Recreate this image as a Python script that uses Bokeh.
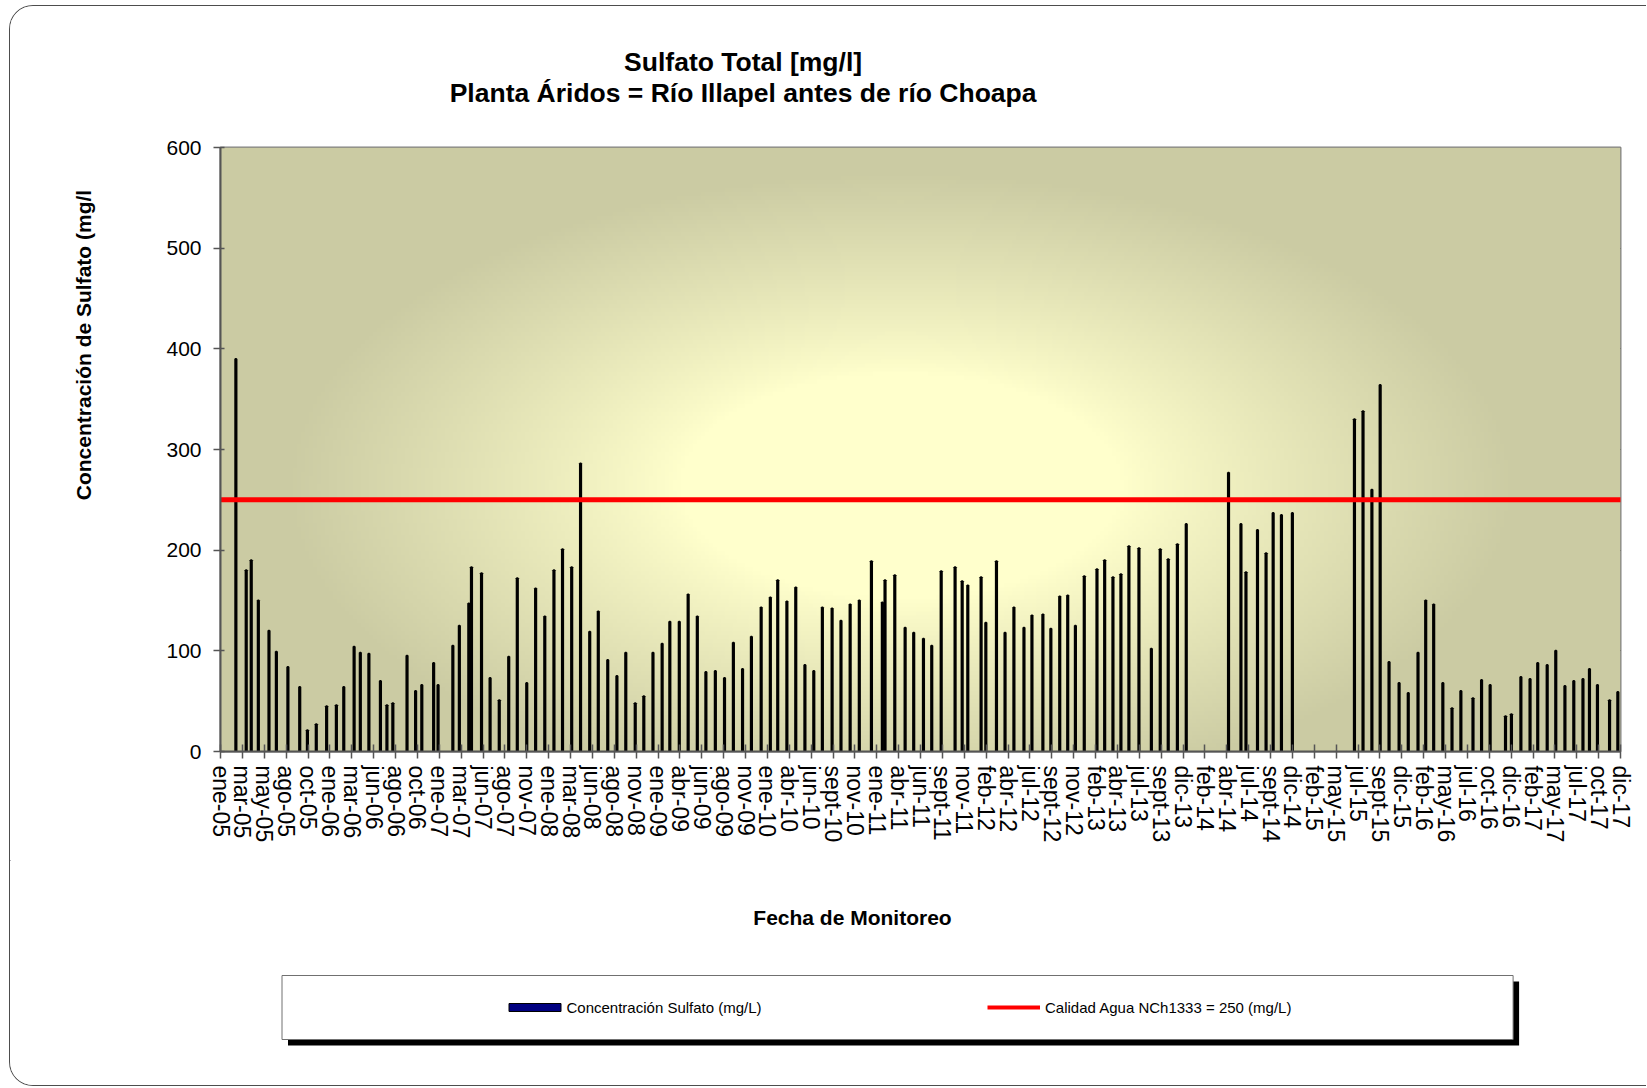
import numpy as np
import pandas as pd
from bokeh.plotting import figure
from bokeh.layouts import column, row
from bokeh.models import Range1d, FixedTicker, Legend, LegendItem, ColumnDataSource
from bokeh.core.properties import value
from bokeh.embed import file_html
from bokeh.resources import INLINE

# ---------------- texts ----------------
title_line1 = "Sulfato Total [mg/l]"
title_line2 = "Planta Áridos = Río Illapel antes de río Choapa"
x_title = "Fecha de Monitoreo"
y_title = "Concentración de Sulfato (mg/l"
series_bar = "Concentración Sulfato (mg/L)"
series_limit = "Calidad Agua NCh1333 = 250 (mg/L)"

# ---------------- data ----------------
sample_dates = [
    "2005-02-22", "2005-03-29", "2005-04-15", "2005-05-09", "2005-06-14", "2005-07-09",
    "2005-08-17", "2005-09-26", "2005-10-22", "2005-11-21", "2005-12-26", "2006-01-28",
    "2006-02-22", "2006-03-29", "2006-04-19", "2006-05-18", "2006-06-26", "2006-07-18",
    "2006-08-07", "2006-09-24", "2006-10-23", "2006-11-13", "2006-12-23", "2007-01-07",
    "2007-02-26", "2007-03-20", "2007-04-21", "2007-04-30", "2007-06-03", "2007-07-02",
    "2007-08-02", "2007-09-03", "2007-10-02", "2007-11-03", "2007-12-03", "2008-01-03",
    "2008-02-03", "2008-03-03", "2008-04-03", "2008-05-03", "2008-06-03", "2008-07-02",
    "2008-08-03", "2008-09-03", "2008-10-03", "2008-11-04", "2008-12-03", "2009-01-03",
    "2009-02-03", "2009-03-01", "2009-04-02", "2009-05-02", "2009-06-02", "2009-07-01",
    "2009-08-02", "2009-09-02", "2009-10-02", "2009-11-02", "2009-12-02", "2010-01-04",
    "2010-02-04", "2010-03-01", "2010-04-01", "2010-05-01", "2010-06-01", "2010-07-01",
    "2010-07-30", "2010-09-01", "2010-10-01", "2010-11-01", "2010-12-02", "2011-01-12",
    "2011-02-18", "2011-02-27", "2011-04-01", "2011-05-06", "2011-06-04", "2011-07-07",
    "2011-08-04", "2011-09-05", "2011-10-22", "2011-11-15", "2011-12-04", "2012-01-18",
    "2012-02-03", "2012-03-10", "2012-04-08", "2012-05-08", "2012-06-11", "2012-07-08",
    "2012-08-14", "2012-09-10", "2012-10-10", "2012-11-06", "2012-12-02", "2013-01-01",
    "2013-02-13", "2013-03-11", "2013-04-08", "2013-05-05", "2013-06-01", "2013-07-05",
    "2013-08-16", "2013-09-15", "2013-10-12", "2013-11-12", "2013-12-12", "2014-05-04",
    "2014-06-15", "2014-07-02", "2014-08-10", "2014-09-08", "2014-10-02", "2014-10-30",
    "2014-12-06", "2015-07-04", "2015-08-02", "2015-09-01", "2015-09-29", "2015-10-29",
    "2015-12-02", "2016-01-02", "2016-02-04", "2016-03-01", "2016-03-28", "2016-04-28",
    "2016-05-29", "2016-06-28", "2016-08-08", "2016-09-06", "2016-10-05", "2016-11-26",
    "2016-12-16", "2017-01-17", "2017-02-17", "2017-03-15", "2017-04-16", "2017-05-15",
    "2017-06-15", "2017-07-15", "2017-08-15", "2017-09-06", "2017-10-03", "2017-11-13",
    "2017-12-11",
]
sulfate = [
    390, 180, 190, 150, 120, 99,
    84, 64, 21, 27, 45, 46,
    64, 104, 98, 97, 70, 46,
    48, 95, 60, 66, 88, 66,
    105, 125, 147, 183, 177, 73,
    51, 94, 172, 68, 162, 134,
    180, 201, 183, 286, 119, 139,
    91, 75, 98, 48, 55, 98,
    107, 129, 129, 156, 134, 79,
    80, 73, 108, 82, 114, 143,
    153, 170, 149, 163, 86, 80,
    143, 142, 130, 146, 150, 189,
    148, 170, 175, 123, 118, 112,
    105, 179, 183, 169, 165, 173,
    128, 189, 118, 143, 123, 135,
    136, 122, 154, 155, 125, 174,
    181, 190, 173, 176, 204, 202,
    102, 201, 191, 206, 226, 277,
    226, 178, 220, 197, 237, 235,
    237, 330, 338, 260, 364, 89,
    68, 58, 98, 150, 146, 68,
    43, 60, 53, 71, 66, 35,
    37, 74, 72, 88, 86, 100,
    65, 70, 72, 82, 66, 51,
    59,
]
limit_value = 250

axis_start = "2005-01-01"
tick_step_days = 74
tick_labels = [
    "ene-05", "mar-05", "may-05", "ago-05", "oct-05", "ene-06", "mar-06", "jun-06",
    "ago-06", "oct-06", "ene-07", "mar-07", "jun-07", "ago-07", "nov-07", "ene-08",
    "mar-08", "jun-08", "ago-08", "nov-08", "ene-09", "abr-09", "jun-09", "ago-09",
    "nov-09", "ene-10", "abr-10", "jun-10", "sept-10", "nov-10", "ene-11", "abr-11",
    "jun-11", "sept-11", "nov-11", "feb-12", "abr-12", "jul-12", "sept-12", "nov-12",
    "feb-13", "abr-13", "jul-13", "sept-13", "dic-13", "feb-14", "abr-14", "jul-14",
    "sept-14", "dic-14", "feb-15", "may-15", "jul-15", "sept-15", "dic-15", "feb-16",
    "may-16", "jul-16", "oct-16", "dic-16", "feb-17", "may-17", "jul-17", "oct-17",
    "dic-17",
]
y_ticks = [0, 100, 200, 300, 400, 500, 600]

# ---------------- derived ----------------
start = pd.Timestamp(axis_start)
x_days = [(pd.Timestamp(d) - start).days for d in sample_dates]
tick_pos = [i * tick_step_days for i in range(len(tick_labels))]
x_end = tick_pos[-1]
y_max = y_ticks[-1]
src = ColumnDataSource(dict(x=x_days, v=sulfate))

FONT = "Liberation Sans"
BAR_FILL = "#000080"
BAR_LINE = "black"
LIMIT_COLOR = "#FF0000"


def blank_fig(w, h, x0, x1, y_top, y_bottom):
    """helper canvas whose data units are page pixels (for texts / legend box)"""
    f = figure(width=w, height=h, output_backend="svg", toolbar_location=None,
               x_range=Range1d(x0, x1), y_range=Range1d(y_bottom, y_top),
               x_axis_location=None, y_axis_location=None,
               min_border=0, min_border_left=0, min_border_right=0,
               min_border_top=0, min_border_bottom=0)
    f.outline_line_color = None
    f.border_fill_color = "white"
    f.background_fill_color = "white"
    f.grid.visible = False
    return f


# ---------------- header (title) ----------------
head = blank_fig(1636, 114, 10, 1646, 6, 120)
head.text(x=[742.6, 742.6], y=[61, 92.5], text=[title_line1, title_line2],
          text_align="center", text_baseline="middle", text_font=value(FONT),
          text_font_style="bold", text_font_size="26.5px", text_color="black")

# ---------------- y-axis title ----------------
side = blank_fig(120, 740, 10, 130, 120, 860)
side.text(x=[83], y=[362], text=[y_title], angle=np.pi / 2,
          text_align="center", text_baseline="middle", text_font=value(FONT),
          text_font_style="bold", text_font_size="21px", text_color="black")

# ---------------- main plot ----------------
p = figure(width=1516, height=740, output_backend="svg", toolbar_location=None,
           x_range=Range1d(0, x_end), y_range=Range1d(0, y_max),
           min_border_left=90, min_border_right=26, min_border_top=27,
           min_border_bottom=109)
p.border_fill_color = "white"
p.outline_line_color = "#808080"
p.outline_line_width = 2

# radial "from centre" background gradient (style only)
nx, ny = 350, 151
gx = (np.arange(nx) + 0.5) / nx
gy = (np.arange(ny) + 0.5) / ny
GX, GY = np.meshgrid(gx, gy)
rr = np.sqrt(((GX - 0.486) / 0.44) ** 2 + ((GY - 0.44) / 0.52) ** 2)
tt = np.clip((rr - 0.36) / 0.64, 0, 1) ** 0.9
c0 = np.array([255, 255, 204], dtype=float)
c1 = np.array([203, 203, 163], dtype=float)
rgb = c0 + (c1 - c0) * tt[..., None]
img = np.empty((ny, nx), dtype=np.uint32)
view = img.view(dtype=np.uint8).reshape((ny, nx, 4))
view[..., :3] = rgb.astype(np.uint8)
view[..., 3] = 255
p.image_rgba(image=[img], x=0, y=0, dw=x_end, dh=y_max)

p.vbar(x="x", top="v", bottom=0, width=4, source=src,
       fill_color=BAR_FILL, line_color=BAR_LINE, line_width=2)
p.line(x=[0, x_end], y=[limit_value, limit_value], line_color=LIMIT_COLOR,
       line_width=5, line_cap="round")

p.xgrid.visible = False
p.ygrid.grid_line_color = "black"
p.ygrid.grid_line_width = 1
p.ygrid.ticker = FixedTicker(ticks=y_ticks)

p.yaxis.ticker = FixedTicker(ticks=y_ticks)
p.xaxis.ticker = FixedTicker(ticks=tick_pos)
p.xaxis.major_label_overrides = {t: lab for t, lab in zip(tick_pos, tick_labels)}
p.xaxis.major_label_orientation = "vertical"

for ax in (p.xaxis[0], p.yaxis[0]):
    ax.axis_line_color = "#555555"
    ax.axis_line_width = 2
    ax.major_tick_line_color = "#555555"
    ax.major_tick_line_width = 1.5
    ax.minor_tick_line_color = None
    ax.major_label_text_font = FONT
    ax.major_label_text_color = "black"

p.xaxis.major_tick_in = 7
p.xaxis.major_tick_out = 7
p.xaxis.major_label_standoff = 7
p.xaxis.major_label_text_font_size = "23px"

p.yaxis.major_tick_in = 4
p.yaxis.major_tick_out = 7
p.yaxis.major_label_standoff = 12
p.yaxis.major_label_text_font_size = "21px"

# ---------------- bottom: x-axis title + legend ----------------
bot = blank_fig(1636, 225, 10, 1646, 860, 1085)
bot.text(x=[852], y=[917], text=[x_title], text_align="center",
         text_baseline="middle", text_font=value(FONT), text_font_style="bold",
         text_font_size="21px", text_color="black")
# legend frame with drop shadow
bot.quad(left=[287.5], right=[1518.6], top=[981], bottom=[1045],
         fill_color="black", line_color=None)
bot.quad(left=[281.5], right=[1512.6], top=[975], bottom=[1039],
         fill_color="white", line_color="#707070", line_width=1)
# legend keys, styled like the plot's renderers (their single point lies off-canvas)
key_bar = bot.vbar(x=[0], top=[0], bottom=[0], width=1, fill_color=BAR_FILL,
                   line_color=BAR_LINE, line_width=1)
key_line = bot.line(x=[0, 1], y=[0, 0], line_color=LIMIT_COLOR, line_width=4)

common = dict(orientation="horizontal", padding=0, margin=0, spacing=0,
              border_line_color=None, background_fill_alpha=0,
              label_text_font=FONT, label_text_font_size="15px",
              label_text_color="black", glyph_height=10, label_height=20)
bot.add_layout(Legend(items=[LegendItem(label=value(series_bar), renderers=[key_bar])],
                      location=(491.5, 68), glyph_width=65, label_standoff=0, **common))
bot.add_layout(Legend(items=[LegendItem(label=value(series_limit), renderers=[key_line])],
                      location=(977, 68), glyph_width=53, label_standoff=5, **common))

layout = column(head, row(side, p), bot, spacing=0,
                styles={"margin-left": "9px", "margin-top": "5px",
                        "border-top": "1px solid #4d4d4d",
                        "border-left": "1px solid #4d4d4d",
                        "border-bottom": "1px solid #4d4d4d",
                        "border-top-left-radius": "24px",
                        "border-bottom-left-radius": "24px",
                        "overflow": "hidden"})

open("out.html", "w").write(file_html(layout, INLINE))
